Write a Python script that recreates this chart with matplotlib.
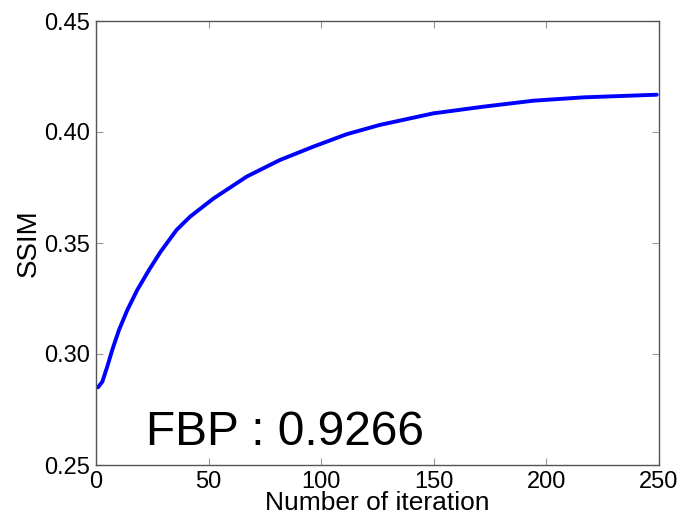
import numpy as np
import matplotlib
matplotlib.use('Agg')
import matplotlib.pyplot as plt

# values
iters = [0.9, 2.8, 5.0, 7.2, 10.2, 13.9, 18.3, 23.5, 28.7, 35.8, 41.7,
         52.1, 66.9, 81.7, 96.5, 111.3, 126.1, 149.8, 172, 194.2, 216.4, 249]
ssim = [0.2850, 0.2875, 0.2943, 0.3018, 0.3108, 0.3198, 0.3288, 0.3378, 0.3461,
        0.3559, 0.3618, 0.3700, 0.3799, 0.3874, 0.3934, 0.3990, 0.4032,
        0.4084, 0.4114, 0.4141, 0.4156, 0.4168]
xticks = [0, 50, 100, 150, 200, 250]
yticks = [0.25, 0.30, 0.35, 0.40, 0.45]
note = 'FBP : 0.9266'

plt.rcParams['font.family'] = ['Liberation Sans', 'DejaVu Sans']

fig = plt.figure(figsize=(6.82, 5.23), dpi=100)
ax = fig.add_axes([96/682, 1-465/523, (659-96)/682, (465-21)/523])

ax.plot(iters, ssim, color='#0000ff', lw=2.8, solid_capstyle='round',
        solid_joinstyle='round')

ax.set_xlim(0, 250)
ax.set_ylim(0.25, 0.45)
ax.set_xticks(xticks)
ax.set_yticks(yticks)
ax.set_yticklabels(['%.2f' % v for v in yticks])
ax.tick_params(direction='in', length=5, color='#999999', labelsize=17,
               top=True, right=True, pad=4)
for s in ax.spines.values():
    s.set_color('#555555')
    s.set_linewidth(1.0)

ax.set_xlabel('Number of iteration', fontsize=19, labelpad=-1)
ax.set_ylabel('SSIM', fontsize=20, labelpad=2)

ax.text(22, 0.259, note, fontsize=34.5, ha='left', va='baseline')

plt.savefig('out.png', dpi=100)
